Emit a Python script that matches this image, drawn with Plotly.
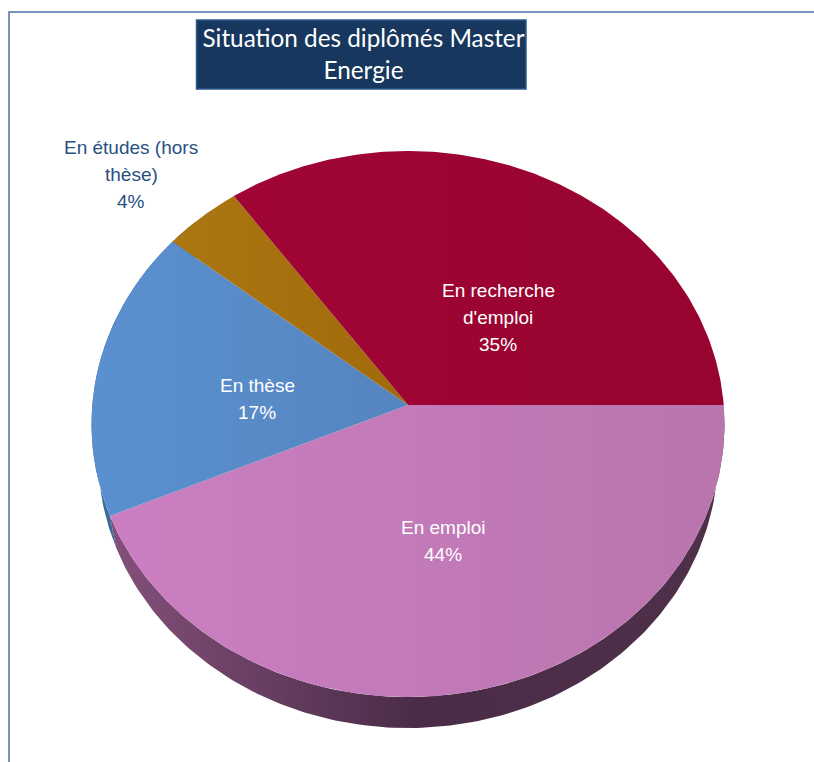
import numpy as np
import plotly.graph_objects as go

# ---- data ----
categories = ["En emploi", "En thèse", "En études (hors thèse)", "En recherche d'emploi"]
values = [43.5, 17.3, 4.3, 34.9]
label_lines = [["En emploi"], ["En thèse"], ["En études (hors", "thèse)"], ["En recherche", "d'emploi"]]
title_text = "Situation des diplômés Master<br>Energie"

# ---- styles ----
top_scales = [["#cb7fc2", "#b975ae"], ["#5b90d0", "#5585c0"], ["#ac7611", "#a06a0c"], ["#a00535", "#97042f"]]
wall_scales = [["#84507a", "#4a2c48", "#4f3049"], ["#3d6a98", "#3d6a98"]]
label_colors = ["white", "white", "#2a5082", "white"]
label_centers = [(443, 541), (257, 399), (131, 174), (498, 317)]

W, H = 814, 762
CX, CY, RX, RY = 408, 424, 316.5, 273     # top face ellipse
APEX = (CY - 405) / RY                     # perspective offset of the pie's centre
WCX, WCY, WRX, WRY = 408, 456, 310, 272    # ellipse of the lower rim


def project(theta):
    """Circle angle (clockwise from 3 o'clock) -> normalised point on the tilted ellipse."""
    u, v = np.cos(theta), np.sin(theta)
    d = 1 - APEX * v
    return u * np.sqrt(1 - APEX ** 2) / d, (v - APEX) / d


edges = np.cumsum([0] + values) / sum(values) * 2 * np.pi
fig = go.Figure()


def scale(cols):
    return [[i / (len(cols) - 1), c] for i, c in enumerate(cols)]


# side wall: only the slices that reach the front half
wall_limits = [(edges[0], edges[1]), (edges[1], np.pi * 1.25)]
for (a, b), cols, name in zip(wall_limits, wall_scales, categories):
    t = np.linspace(a, b, 160)
    nx, ny = project(t)
    xo, yo = WCX + WRX * nx, WCY + WRY * ny
    xi, yi = CX + RX * nx, CY + RY * ny
    fig.add_trace(go.Scatter(
        x=np.r_[xo, xi[::-1]], y=np.r_[yo, yi[::-1]], mode="lines", line_width=0,
        fill="toself", fillgradient=dict(type="horizontal", colorscale=scale(cols)),
        hoverinfo="skip", showlegend=False))

# top faces
for i, name in enumerate(categories):
    t = np.linspace(edges[i], edges[i + 1], 200)
    nx, ny = project(t)
    ax, ay = CX, CY - APEX * RY
    fig.add_trace(go.Scatter(
        x=np.r_[ax, CX + RX * nx, ax], y=np.r_[ay, CY + RY * ny, ay], mode="lines", line_width=0,
        fill="toself", fillgradient=dict(type="horizontal", colorscale=scale(top_scales[i])),
        name=name, hoverinfo="name", showlegend=False))

# labels, one annotation per line for the 27 px leading
annotations = []
for lines, v, c, (lx, ly) in zip(label_lines, values, label_colors, label_centers):
    rows = lines + [f"{round(v + 1e-9):d}%"]
    for j, row in enumerate(rows):
        annotations.append(dict(x=lx, y=ly + (j - (len(rows) - 1) / 2) * 27, text=row, showarrow=False,
                                font=dict(family="Liberation Sans", size=19, color=c),
                                xanchor="center", yanchor="middle"))

fig.update_layout(
    width=W, height=H, margin=dict(l=0, r=0, t=0, b=0), autosize=False,
    paper_bgcolor="white", plot_bgcolor="white", showlegend=False,
    xaxis=dict(range=[0, W], visible=False, fixedrange=True),
    yaxis=dict(range=[H, 0], visible=False, fixedrange=True),
    title=dict(text=title_text, x=363.5 / W, xanchor="center", y=1 - 47 / H, yanchor="middle",
               font=dict(family="Lato", size=24.3, color="white")),
    annotations=annotations,
    shapes=[
        dict(type="path", path=f"M 9 {H} L 9 12 L {W} 12", line=dict(color="#4a72a8", width=1.5), layer="below"),
        dict(type="rect", x0=196.5, x1=526, y0=20, y1=89, fillcolor="#17375e",
             line=dict(color="#2f5a90", width=1.5), layer="below"),
    ],
)
fig.write_html("out.html", config={"displayModeBar": False},
               post_script="document.body.style.margin='0';document.documentElement.style.overflow='hidden';")
